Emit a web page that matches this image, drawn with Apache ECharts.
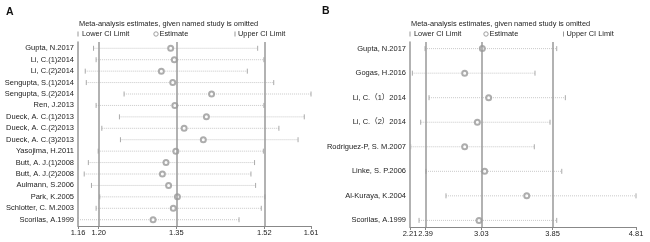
<!DOCTYPE html>
<html>
<head>
<meta charset="utf-8">
<script src="https://cdn.jsdelivr.net/npm/echarts@6/dist/echarts.min.js"></script>
<style>
  html, body { margin: 0; padding: 0; background: #fff; }
  #chart { width: 650px; height: 242px; }
</style>
</head>
<body>
<div id="chart"></div>
<script>
// panel A
const namesA = ['Gupta, N.2017', 'Li, C.(1)2014', 'Li, C.(2)2014', 'Sengupta, S.(1)2014', 'Sengupta, S.(2)2014',
  'Ren, J.2013', 'Dueck, A. C.(1)2013', 'Dueck, A. C.(2)2013', 'Dueck, A. C.(3)2013', 'Yasojima, H.2011',
  'Butt, A. J.(1)2008', 'Butt, A. J.(2)2008', 'Aulmann, S.2006', 'Park, K.2005', 'Schlotter, C. M.2003', 'Scorilas, A.1999'];
const lowerA = [1.19, 1.195, 1.174, 1.176, 1.249, 1.195, 1.240, 1.206, 1.242, 1.199, 1.180, 1.172, 1.186, 1.202, 1.195, 1.16];
const estA = [1.339, 1.346, 1.321, 1.343, 1.418, 1.347, 1.408, 1.365, 1.402, 1.349, 1.330, 1.323, 1.335, 1.352, 1.344, 1.305];
const upperA = [1.507, 1.519, 1.487, 1.538, 1.61, 1.519, 1.597, 1.548, 1.585, 1.518, 1.501, 1.494, 1.503, 1.521, 1.514, 1.471];
const refA = [1.20, 1.35, 1.52];
const ticksA = [1.16, 1.20, 1.35, 1.52, 1.61];

// panel B
const namesB = ['Gupta, N.2017', 'Gogas, H.2016', 'Li, C.（1）2014', 'Li, C.（2）2014',
  'Rodriguez-P, S. M.2007', 'Linke, S. P.2006', 'Al-Kuraya, K.2004', 'Scorilas, A.1999'];
const lowerB = [2.383, 2.237, 2.429, 2.333, 2.218, 2.394, 2.624, 2.314];
const estB = [3.042, 2.839, 3.115, 2.985, 2.839, 3.069, 3.553, 3.004];
const upperB = [3.898, 3.648, 3.997, 3.821, 3.640, 3.956, 4.81, 3.898];
const refB = [2.39, 3.03, 3.85];
const ticksB = [2.21, 2.39, 3.03, 3.85, 4.81];

const FONT = '"Liberation Sans", Arial, "Noto Sans CJK SC", sans-serif';
const TXT = '#222';

const chart = echarts.init(document.getElementById('chart'));

// CI line with end caps
function ciRender(params, api) {
  const lo = api.coord([api.value(0), api.value(2)]);
  const hi = api.coord([api.value(1), api.value(2)]);
  const capStyle = { stroke: '#aaa', lineWidth: 1 };
  return {
    type: 'group',
    children: [
      { type: 'line', shape: { x1: lo[0], y1: lo[1], x2: hi[0], y2: hi[1] },
        style: { stroke: '#c8c8c8', lineWidth: 1, lineDash: [1, 1] } },
      { type: 'line', shape: { x1: lo[0], y1: lo[1] - 2.5, x2: lo[0], y2: lo[1] + 2.5 }, style: capStyle },
      { type: 'line', shape: { x1: hi[0], y1: hi[1] - 2.5, x2: hi[0], y2: hi[1] + 2.5 }, style: capStyle }
    ]
  };
}

function xAxisCfg(idx, min, max, ticks) {
  return {
    type: 'value', gridIndex: idx, min: min, max: max, position: 'bottom',
    splitLine: { show: false },
    axisLine: { onZero: false, lineStyle: { color: '#888', width: 1 } },
    axisTick: { customValues: ticks, length: 3, lineStyle: { color: '#888' } },
    axisLabel: { customValues: ticks, formatter: v => v.toFixed(2), margin: 3,
      fontSize: 7.5, color: TXT, fontFamily: FONT }
  };
}

function yAxisCfg(idx, names, pad) {
  return {
    type: 'value', gridIndex: idx, inverse: true, position: 'left',
    min: -pad, max: names.length - 1 + pad,
    splitLine: { show: false },
    axisLine: { show: true, onZero: false, lineStyle: { color: '#999', width: 1.5 } },
    axisTick: { show: false },
    axisLabel: { customValues: names.map((_, i) => i), formatter: v => names[v] || '',
      margin: 4, fontSize: 7.5, color: TXT, fontFamily: FONT }
  };
}

function seriesFor(idx, names, lower, est, upper, refs) {
  return [
    {
      type: 'custom', xAxisIndex: idx, yAxisIndex: idx, silent: true,
      renderItem: ciRender,
      encode: { x: [0, 1], y: 2 },
      data: names.map((n, i) => [lower[i], upper[i], i]),
      z: 2
    },
    {
      type: 'scatter', xAxisIndex: idx, yAxisIndex: idx, silent: true,
      symbol: 'emptyCircle', symbolSize: 5,
      itemStyle: { color: '#999', borderWidth: 0.8 },
      data: names.map((n, i) => [est[i], i]),
      markLine: {
        silent: true, symbol: 'none', label: { show: false },
        lineStyle: { color: '#999', width: 1.5, type: 'solid' },
        data: refs.map(v => ({ xAxis: v }))
      },
      z: 3
    }
  ];
}

function header(x0, xEst, xUp) {
  const ts = { fontSize: 7.4, fill: TXT, font: '7.4px ' + FONT };
  return [
    { type: 'text', x: x0, y: 24, style: Object.assign({ text: 'Meta-analysis estimates, given named study is omitted', verticalAlign: 'middle' }, ts) },
    { type: 'line', shape: { x1: x0 - 1, y1: 31.5, x2: x0 - 1, y2: 36.5 }, style: { stroke: '#999', lineWidth: 1 } },
    { type: 'text', x: x0 + 3, y: 34, style: Object.assign({ text: 'Lower CI Limit', verticalAlign: 'middle' }, ts) },
    { type: 'circle', shape: { cx: xEst, cy: 34, r: 2.2 }, style: { fill: '#fff', stroke: '#888', lineWidth: 0.8 } },
    { type: 'text', x: xEst + 3.5, y: 34, style: Object.assign({ text: 'Estimate', verticalAlign: 'middle' }, ts) },
    { type: 'line', shape: { x1: xUp, y1: 31.5, x2: xUp, y2: 36.5 }, style: { stroke: '#999', lineWidth: 1 } },
    { type: 'text', x: xUp + 3, y: 34, style: Object.assign({ text: 'Upper CI Limit', verticalAlign: 'middle' }, ts) }
  ];
}

const option = {
  backgroundColor: '#fff',
  animation: false,
  textStyle: { fontFamily: FONT },
  grid: [
    { left: 78, top: 42, width: 233, height: 184 },
    { left: 410, top: 42, width: 226, height: 185 }
  ],
  xAxis: [xAxisCfg(0, 1.16, 1.61, ticksA), xAxisCfg(1, 2.21, 4.81, ticksB)],
  yAxis: [yAxisCfg(0, namesA, 0.55), yAxisCfg(1, namesB, 0.27)],
  graphic: [
    { type: 'text', x: 6, y: 12, style: { text: 'A', font: 'bold 10.5px ' + FONT, fill: '#111', verticalAlign: 'middle' } },
    { type: 'text', x: 322, y: 11, style: { text: 'B', font: 'bold 10.5px ' + FONT, fill: '#111', verticalAlign: 'middle' } }
  ].concat(header(79, 156, 235), header(411, 486, 563.5)),
  series: seriesFor(0, namesA, lowerA, estA, upperA, refA)
    .concat(seriesFor(1, namesB, lowerB, estB, upperB, refB))
};

chart.setOption(option);
</script>
</body>
</html>
